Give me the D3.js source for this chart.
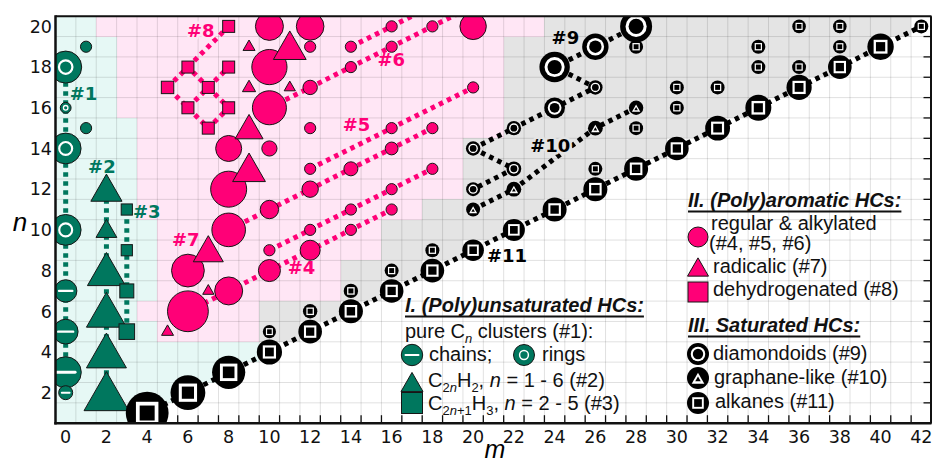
<!DOCTYPE html>
<html><head><meta charset="utf-8">
<script src="https://cdn.jsdelivr.net/npm/d3@7"></script>
<style>body{margin:0;background:#fff}svg{display:block}</style>
</head><body>
<svg id="c" width="932" height="463"></svg>
<script>
// ---------------- DATA ----------------
const mTickLabels = [0,2,4,6,8,10,12,14,16,18,20,22,24,26,28,30,32,34,36,38,40,42];
const nTickLabels = [2,4,6,8,10,12,14,16,18,20];

// background cells: [n, mFrom, mTo]
const cyanCells = [[1,0,3],[2,0,5],[3,0,7],[4,0,9],[5,0,4],[6,0,3],[7,0,4],[8,0,4],[9,0,4],[10,0,4],
  [11,0,3],[12,0,3],[13,0,3],[14,0,3],[15,0,3],[16,0,2],[17,0,2],[18,0,2],[19,0,2],[20,0,1]];
const pinkCells = [[5,5,9],[6,4,9],[7,5,13],[8,5,13],[9,5,15],[10,5,15],[11,4,17],[12,4,19],[13,4,19],
  [14,4,19],[15,4,21],[16,3,21],[17,3,21],[18,3,21],[19,3,21],[20,2,23]];
const greyCells = [[5,10,11],[6,10,13],[7,14,15],[8,14,17],[9,16,19],[10,16,21],[11,18,23],[12,20,25],
  [13,20,27],[14,20,29],[15,22,31],[16,22,33],[17,22,35],[18,22,37],[19,22,39],[20,24,41]];

// markers: [m, n, relative size]
const cnChains = [[0,3,7.8],[0,5,6.2],[0,7,5.6],[0,2,3.5]];
const cnRings = [[0,10,7.7],[0,14,7.7],[0,16,2.7],[0,18,8]];
const cnOther = [[1,15,2.8],[1,19,2.8]];
const c2nH2 = [[2,2,11.2],[2,4,10],[2,6,10],[2,8,9.5],[2,10,5.2],[2,12,7.8]];
const c2n1H3 = [[3,5,3.9],[3,7,3.5],[3,9,2.8],[3,11,2.8]];

const pahRegular = [[6,6,10.2],[6,8,8.2],[8,7,7],[8,10,8.4],[8,12,9],[8,14,6.5],
  [10,8,5.5],[10,9,2.8],[10,11,4.6],[10,14,3.8],[10,16,8.5],[10,18,8.8],[10,20,7],
  [12,9,5],[12,10,2.8],[12,12,4.1],[12,13,2.8],[12,15,2.8],[12,17,3.6],[12,19,2.8],[12,20,6.9],
  [14,10,2.8],[14,11,2.8],[14,13,3.5],[14,18,2.8],[14,19,2.8],
  [16,11,2.8],[16,12,2.8],[16,14,3.2],[16,15,2.8],[16,19,2.8],[16,20,2.8],
  [18,13,2.8],[18,15,2.8],[18,20,2.8],[20,17,2.8],[20,20,6.6]];
const pahRadical = [[5,5,3],[7,7,2.8],[7,9,7.5],[9,13,8.2],[9,15,7],[9,17,3.3],[9,19,3],[11,17,2.8],[11,19,8.2]];
const pahDehydro = [[5,17,3.1],[6,16,3],[6,18,3],[7,15,3],[7,17,3],[8,16,3],[8,18,3],[8,20,3]];

const diamondoids = [[20,12,3.5],[20,14,3.6],[22,13,3.7],[22,15,3.6],[24,16,5.2],[26,17,3.6],[24,18,7.6],[26,19,6.6],[28,20,8]];
const graphaneLike = [[20,11,3.5],[22,12,3.7],[26,15,3.7],[28,16,3.6]];
const alkanesMain = [[4,1,10.7],[6,2,8.7],[8,3,8.3],[10,4,6.3],[12,5,5.9],[14,6,6],[16,7,5.9],[18,8,5.9],
  [20,9,5.4],[22,10,5.5],[24,11,6],[26,12,6],[28,13,6],[30,14,5.9],[32,15,6.2],[34,16,6.5],[36,17,6.3],
  [38,18,5.9],[40,19,6.6],[42,20,3.5]];
const alkanesOther = [[10,5,3.3],[12,6,3.6],[14,7,3.6],[16,8,3.5],[18,9,3.5],[26,13,3.5],[28,15,3.5],[28,19,3.5],
  [30,16,3.5],[30,17,3.5],[32,17,3.5],[34,18,3.5],[34,19,3.5],[36,18,3.5],[36,20,3.4],[38,19,3.4],[38,20,3.4]];

// connecting dotted paths
const unsatPaths = [[[0,2],[0,18]],[[2,2],[2,12]],[[3,5],[3,11]]];
const aromPaths = [[[6,6],[16,11]],[[10,9],[18,13]],[[8,10],[18,15]],[[12,13],[20,17]],[[10,16],[20,21]],[[14,19],[18,21]],
  [[5,17],[6,18],[7,17],[6,16],[5,17]],[[7,17],[8,18]],[[7,17],[8,16],[7,15],[6,16]],[[6,18],[7,19],[8,20]]];
const satPaths = [[[20,14],[22,15],[24,16],[26,17],[24,18],[26,19],[28,20]],[[20,14],[22,13],[20,12]],
  [[20,11],[22,12],[26,15],[28,16]],[[4,1],[42,20]]];

// ---------------- DRAW ----------------
const PINK='#ff0077', TEAL='#00775e', OUT='#161616';
const BG_CYAN='#e6f8f5', BG_PINK='#ffe6f5', BG_GREY='#e4e4e4';
const svg = d3.select('#c');
const x = d3.scaleLinear().domain([-0.5,42.5]).range([55.5,931.5]);
const y = d3.scaleLinear().domain([0.5,20.5]).range([423.2,16.2]);
const rs = d3.scaleLinear().domain([0,10]).range([0,20]);
const L=55.5,R=931.5,T=16.2,B=423.2;

svg.append('defs').append('clipPath').attr('id','pc').append('rect')
  .attr('x',L).attr('y',T).attr('width',R-L).attr('height',B-T);

// ticks (inside, half-integer positions)
const tk = svg.append('g').attr('stroke','#111').attr('stroke-width',1.3);
d3.range(0.5,42.5,1).forEach(t=>tk.append('line').attr('x1',x(t)).attr('x2',x(t)).attr('y1',B).attr('y2',B-8));
d3.range(0.5,20.5,1).forEach(t=>tk.append('line').attr('x1',R).attr('x2',R-8).attr('y1',y(t)).attr('y2',y(t)));

// backgrounds
const bg = svg.append('g');
function cells(arr,col){
  bg.selectAll(null).data(arr).enter().append('rect')
    .attr('x',d=>x(d[1]-0.5)).attr('width',d=>x(d[2]+0.5)-x(d[1]-0.5))
    .attr('y',d=>y(d[0]+0.5)).attr('height',d=>y(d[0]-0.5)-y(d[0]+0.5))
    .attr('fill',col).attr('shape-rendering','crispEdges');
}
cells(cyanCells,BG_CYAN); cells(pinkCells,BG_PINK); cells(greyCells,BG_GREY);

// grid
const gr = svg.append('g').attr('stroke','rgba(0,0,0,0.12)').attr('stroke-width',1);
d3.range(-0.5,43,1).forEach(t=>gr.append('line').attr('x1',x(t)).attr('x2',x(t)).attr('y1',T).attr('y2',B));
d3.range(0.5,21,1).forEach(t=>gr.append('line').attr('y1',y(t)).attr('y2',y(t)).attr('x1',L).attr('x2',R));

const plot = svg.append('g').attr('clip-path','url(#pc)');
const line = d3.line().x(d=>x(d[0])).y(d=>y(d[1]));
function paths(arr,col,dash){
  plot.selectAll(null).data(arr).enter().append('path').attr('d',line)
    .attr('fill','none').attr('stroke',col).attr('stroke-width',5).attr('stroke-dasharray',dash);
}
paths(unsatPaths,TEAL,'4.5,4.5');
paths(aromPaths,PINK,'4.5,4.5');
paths(satPaths,'#000','4.5,4.5');

function triPath(cx,cy,w){const h=w*0.87;return `M${cx},${cy-h/2}L${cx+w/2},${cy+h/2}L${cx-w/2},${cy+h/2}Z`;}
function sqr(g,cx,cy,s,fill,stroke,sw){g.append('rect').attr('x',cx-s/2).attr('y',cy-s/2).attr('width',s).attr('height',s)
  .attr('fill',fill).attr('stroke',stroke||'none').attr('stroke-width',sw||0);}

function chain(g,cx,cy,r){
  g.append('circle').attr('cx',cx).attr('cy',cy).attr('r',r).attr('fill',TEAL).attr('stroke',OUT).attr('stroke-width',1);
  const w=r*1.4,h=Math.max(2,r*0.19);
  g.append('rect').attr('x',cx-w/2).attr('y',cy-h/2).attr('width',w).attr('height',h).attr('rx',h/2).attr('fill','#fff');
}
function ring(g,cx,cy,r){
  g.append('circle').attr('cx',cx).attr('cy',cy).attr('r',r).attr('fill',TEAL).attr('stroke',OUT).attr('stroke-width',1);
  g.append('circle').attr('cx',cx).attr('cy',cy).attr('r',r*0.42).attr('fill','none').attr('stroke','#fff').attr('stroke-width',Math.max(1.3,r*0.14));
}
function dot(g,cx,cy,r,col){g.append('circle').attr('cx',cx).attr('cy',cy).attr('r',r).attr('fill',col).attr('stroke',OUT).attr('stroke-width',1);}
function tri(g,cx,cy,w,col){g.append('path').attr('d',triPath(cx,cy,w)).attr('fill',col).attr('stroke',OUT).attr('stroke-width',1).attr('stroke-linejoin','miter');}
function diamondoid(g,cx,cy,r){
  g.append('circle').attr('cx',cx).attr('cy',cy).attr('r',r).attr('fill','#000');
  g.append('circle').attr('cx',cx).attr('cy',cy).attr('r',r*0.66).attr('fill','#fff');
  g.append('circle').attr('cx',cx).attr('cy',cy).attr('r',r*0.47).attr('fill','#000');
}
function graphane(g,cx,cy,r){
  g.append('circle').attr('cx',cx).attr('cy',cy).attr('r',r).attr('fill','#000');
  g.append('path').attr('d',triPath(cx,cy+0.3,r*1.15)).attr('fill','#fff');
  g.append('path').attr('d',triPath(cx,cy+0.8,r*0.5)).attr('fill','#000');
}
function alkane(g,cx,cy,r){
  g.append('circle').attr('cx',cx).attr('cy',cy).attr('r',r).attr('fill','#000');
  sqr(g,cx,cy,r*1.05,'#fff'); sqr(g,cx,cy,r*0.7,'#000');
}

cnChains.forEach(d=>chain(plot,x(d[0]),y(d[1]),rs(d[2])));
cnRings.forEach(d=>ring(plot,x(d[0]),y(d[1]),rs(d[2])));
cnOther.forEach(d=>dot(plot,x(d[0]),y(d[1]),rs(d[2]),TEAL));
c2nH2.forEach(d=>tri(plot,x(d[0]),y(d[1])-1.5,rs(d[2])*2,TEAL));
c2n1H3.forEach(d=>sqr(plot,x(d[0]),y(d[1]),rs(d[2])*2,TEAL,OUT,1));

pahRegular.forEach(d=>dot(plot,x(d[0]),y(d[1]),rs(d[2]),PINK));
pahRadical.forEach(d=>tri(plot,x(d[0]),y(d[1])-1.5,rs(d[2])*2,PINK));
pahDehydro.forEach(d=>sqr(plot,x(d[0]),y(d[1]),rs(d[2])*2,PINK,OUT,1));

alkanesMain.forEach(d=>alkane(plot,x(d[0]),y(d[1]),rs(d[2])));
alkanesOther.forEach(d=>alkane(plot,x(d[0]),y(d[1]),rs(d[2])));
diamondoids.forEach(d=>diamondoid(plot,x(d[0]),y(d[1]),rs(d[2])));
graphaneLike.forEach(d=>graphane(plot,x(d[0]),y(d[1]),rs(d[2])));

// annotation labels
function lab(txt,mx,ny,col,halo){
  const t=svg.append('text').attr('x',x(mx)).attr('y',y(ny)).text(txt)
    .attr('font-family','DejaVu Sans').attr('font-weight','bold').attr('font-size',18).attr('fill',col);
  if(halo) t.attr('stroke',halo).attr('stroke-width',5).attr('paint-order','stroke').attr('stroke-linejoin','round');
}
lab('#1',0.2,16.4,TEAL); lab('#2',1.1,12.8,TEAL); lab('#3',3.3,10.6,TEAL);
lab('#8',5.95,19.5,PINK,BG_PINK); lab('#6',15.3,18.05,PINK); lab('#5',13.6,14.85,PINK);
lab('#7',5.22,9.2,PINK); lab('#4',10.9,7.85,PINK);
lab('#9',23.85,19.15,'#000'); lab('#10',22.8,13.85,'#000',BG_GREY); lab('#11',20.68,8.4,'#000');

// spines
const sp=svg.append('g').attr('stroke','#111');
sp.append('line').attr('x1',L).attr('x2',L).attr('y1',T-1).attr('y2',B+1.2).attr('stroke-width',2.5);
sp.append('line').attr('x1',L-1.2).attr('x2',R).attr('y1',B).attr('y2',B).attr('stroke-width',2.5);
sp.append('line').attr('x1',L).attr('x2',R).attr('y1',T).attr('y2',T).attr('stroke-width',2);
sp.append('line').attr('x1',R-0.5).attr('x2',R-0.5).attr('y1',T).attr('y2',B).attr('stroke-width',2);

// tick labels
const tl=svg.append('g').attr('font-family','DejaVu Sans').attr('font-size',17.5).attr('fill','#111');
mTickLabels.forEach(v=>tl.append('text').attr('x',x(v)).attr('y',443).attr('text-anchor','middle').text(v));
nTickLabels.forEach(v=>tl.append('text').attr('x',52).attr('y',y(v)+6.3).attr('text-anchor','end').text(v));
const LF='Liberation Sans, Arial, sans-serif';
svg.append('text').attr('x',495).attr('y',457.5).attr('text-anchor','middle').attr('font-family',LF)
  .attr('font-style','italic').attr('font-size',25).text('m');
svg.append('text').attr('x',20).attr('y',231).attr('text-anchor','middle').attr('font-family',LF)
  .attr('font-style','italic').attr('font-size',26).text('n');

// legends
function header(txt,lx,ly){
  const t=svg.append('text').attr('x',lx).attr('y',ly).attr('font-family',LF).attr('font-size',20)
    .attr('font-weight','bold').attr('font-style','italic').attr('fill','#111').text(txt);
  const w=t.node().getComputedTextLength();
  svg.append('line').attr('x1',lx).attr('x2',lx+w).attr('y1',ly+4.5).attr('y2',ly+4.5).attr('stroke','#111').attr('stroke-width',2);
}
function ltext(lx,ly,parts){
  const t=svg.append('text').attr('x',lx).attr('y',ly).attr('font-family',LF).attr('font-size',20).attr('fill','#111');
  let cur=0;
  parts.forEach(p=>{
    const s=t.append('tspan').text(p.t);
    const target=p.sub?5:0;
    if(target!==cur){s.attr('dy',target-cur);cur=target;}
    if(p.sub) s.attr('font-size',13);
    if(p.i) s.attr('font-style','italic');
  });
}
const lg=svg.append('g');
header('I. (Poly)unsaturated HCs:',405,312);
ltext(405,338,[{t:'pure C'},{t:'n',sub:1,i:1},{t:' clusters (#1):'}]);
chain(lg,412,355,10.7); ltext(429,361,[{t:'chains;'}]);
ring(lg,524,355,10.5); ltext(542,361,[{t:'rings'}]);
tri(lg,412,382,22,TEAL);
ltext(428,387,[{t:'C'},{t:'2',sub:1},{t:'n',sub:1,i:1},{t:'H'},{t:'2',sub:1},{t:', '},{t:'n',i:1},{t:' = 1 - 6 (#2)'}]);
sqr(lg,412,403,21,TEAL,OUT,1);
ltext(428,410,[{t:'C'},{t:'2',sub:1},{t:'n',sub:1,i:1},{t:'+1',sub:1},{t:'H'},{t:'3',sub:1},{t:', '},{t:'n',i:1},{t:' = 2 - 5 (#3)'}]);

header('II. (Poly)aromatic HCs:',688,207);
dot(lg,698,237,10,PINK);
ltext(711,230,[{t:'regular & alkylated'}]); ltext(709,250,[{t:'(#4, #5, #6)'}]);
tri(lg,698,267,21,PINK); ltext(713,273,[{t:'radicalic (#7)'}]);
sqr(lg,698,292,20,PINK,OUT,1); ltext(713,296,[{t:'dehydrogenated (#8)'}]);

header('III. Saturated HCs:',688,332);
diamondoid(lg,698,354,11); ltext(713,360,[{t:'diamondoids (#9)'}]);
graphane(lg,698,378,11); ltext(714,384,[{t:'graphane-like (#10)'}]);
alkane(lg,698,403,11); ltext(715,408,[{t:'alkanes (#11)'}]);
</script></body></html>
